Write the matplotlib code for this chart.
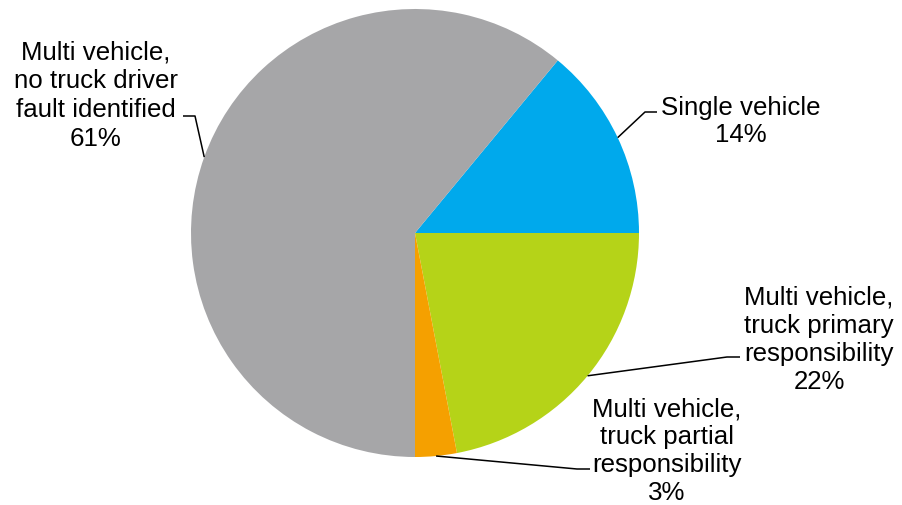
import numpy as np
import matplotlib
matplotlib.use("Agg")
import matplotlib.pyplot as plt

plt.rcParams['font.family'] = ['Liberation Sans', 'DejaVu Sans']

# Crash types and their shares (%)
categories = [
    "Single vehicle",
    "Multi vehicle,\ntruck primary\nresponsibility",
    "Multi vehicle,\ntruck partial\nresponsibility",
    "Multi vehicle,\nno truck driver\nfault identified",
]
shares = [14, 22, 3, 61]
colors = ["#00A9EC", "#B5D318", "#F5A000", "#A6A6A8"]

W, H = 903, 506
fig = plt.figure(figsize=(W / 100, H / 100), dpi=100)
ax = fig.add_axes([0, 0, 1, 1])

cx, cy, r = 415, H - 234, 224
start = 50.4
wedges, _ = ax.pie(shares, colors=colors, startangle=start, counterclock=False,
                   center=(cx, cy), radius=r, frame=True,
                   wedgeprops=dict(linewidth=0))
ax.set_xlim(0, W)
ax.set_ylim(0, H)
ax.set_aspect('equal')
ax.axis('off')

# label layout: text anchor (last-line baseline), elbow point, end point, line spacing
layout = [
    dict(text=(741, H - 142), elbow=(645, H - 113), end=(657, H - 113), ls=1.16),
    dict(text=(819, H - 389), elbow=(727, H - 358), end=(740, H - 358), ls=1.22),
    dict(text=(667, H - 500), elbow=(577, H - 470), end=(590, H - 470), ls=1.21),
    dict(text=(96, H - 146), elbow=(195, H - 117), end=(183, H - 117), ls=1.26),
]

for w, cat, val, lay in zip(wedges, categories, shares, layout):
    mid = np.deg2rad((w.theta1 + w.theta2) / 2)
    ex, ey = cx + r * np.cos(mid), cy + r * np.sin(mid)
    xs = [ex, lay['elbow'][0], lay['end'][0]]
    ys = [ey, lay['elbow'][1], lay['end'][1]]
    ax.plot(xs, ys, color='black', lw=1.1, solid_capstyle='butt')
    ax.text(lay['text'][0], lay['text'][1], f"{cat}\n{val}%",
            ha='center', va='baseline', multialignment='center',
            fontsize=18.6, linespacing=lay['ls'], color='black')

fig.savefig("out.png", dpi=100)
